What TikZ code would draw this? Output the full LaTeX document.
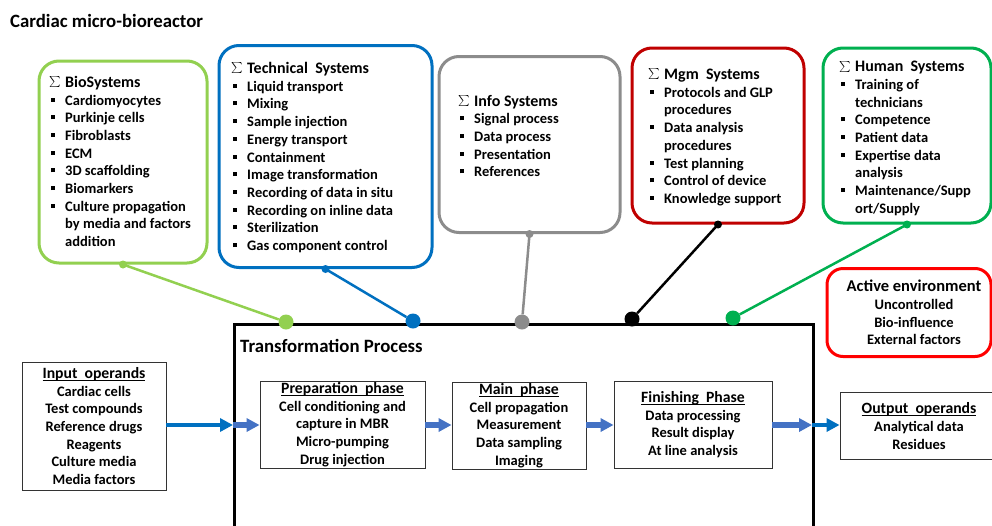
\documentclass[tikz,border=0pt]{standalone}
\usepackage{fontspec}
\setmainfont{Carlito}
\usetikzlibrary{arrows.meta}
\definecolor{cbio}{HTML}{92D050}
\definecolor{ctech}{HTML}{0070C0}
\definecolor{cinfo}{HTML}{8C8C8C}
\definecolor{cmgm}{HTML}{C00000}
\definecolor{chum}{HTML}{00B050}
\definecolor{cact}{HTML}{FF0000}
\definecolor{carrd}{HTML}{0070C0}
\definecolor{carrl}{HTML}{4472C4}
\newlength{\myullen}
\newcommand{\myul}[1]{\settowidth{\myullen}{#1}\rlap{\rule[-2.2pt]{\myullen}{0.8pt}}#1}
\newcommand{\syshdr}[1]{\strut\makebox[16pt][l]{\raisebox{1.2pt}{\scalebox{1.1}{$\sum$}}}{\fontsize{16}{17.7}\selectfont #1}}
\newcommand{\sysitm}[1]{\\\strut\hspace*{2pt}\makebox[14pt][l]{\rule[3.5pt]{4pt}{4pt}}#1}
\newcommand{\syscnt}[1]{\\\strut\hspace*{16pt}#1}
\newcommand{\phhdr}[1]{{\fontsize{15.7}{17.7}\selectfont\myul{#1}}}
\tikzset{
  sysbox/.style={draw, rounded corners=20pt, line width=3pt, inner sep=0, fill=white},
  systxt/.style={anchor=west, inner sep=0, align=left, font=\fontsize{14.5}{17.7}\selectfont\bfseries},
  phasebox/.style={draw=black!80, line width=0.9pt, inner sep=0, align=center, font=\fontsize{14.5}{17.7}\selectfont\bfseries},
  phasetxt/.style={inner sep=0, align=center, font=\fontsize{14.5}{17.7}\selectfont\bfseries},
  bigdot/.style={circle, inner sep=0, minimum size=15pt},
  link/.style={line width=2.5pt},
  darr/.style={carrd, line width=4pt, -{Triangle[length=13pt,width=13pt]}},
  larr/.style={carrl, line width=6pt, -{Triangle[length=13pt,width=13pt]}},
  heading/.style={anchor=west, inner sep=0, font=\fontsize{18.8}{22}\selectfont\bfseries},
}
\begin{document}
\begin{tikzpicture}[x=1pt,y=-1pt]
\useasboundingbox (0,0) rectangle (992,525);
\fill[white] (0,0) rectangle (992,525);
% title
\node[heading] (title) at (10,21) {Cardiac micro-bioreactor};
% transformation process frame
\node[draw, line width=2.5pt, minimum width=579pt, minimum height=230pt, anchor=north west, inner sep=0] (trans) at (233,323) {};
\node[heading] (translbl) at (240,346) {Transformation Process};
% system boxes
\node[sysbox, draw=cbio, minimum width=168pt, minimum height=202pt] (bio) at (123,162) {};
\node[sysbox, draw=ctech, minimum width=213pt, minimum height=222pt] (tech) at (325.5,156.5) {};
\node[sysbox, draw=cinfo, minimum width=181pt, minimum height=176pt] (info) at (529.5,144.5) {};
\node[sysbox, draw=cmgm, minimum width=172pt, minimum height=175pt] (mgm) at (718,135.5) {};
\node[sysbox, draw=chum, minimum width=168pt, minimum height=175pt] (hum) at (907,135.5) {};
\node[sysbox, draw=cact, rounded corners=16pt, minimum width=164pt, minimum height=88pt, align=center, font=\fontsize{14.5}{17.7}\selectfont\bfseries] (act) at (909,312.5)
  {\hspace*{10pt}{\fontsize{16.5}{17.7}\selectfont Active environment}\\\hspace*{10pt}Uncontrolled\\\hspace*{10pt}Bio-influence\\\hspace*{10pt}External factors};
% system texts
\node[systxt] (biotxt) at (49,163.5) {\syshdr{BioSystems}\sysitm{Cardiomyocytes}\sysitm{Purkinje cells}\sysitm{Fibroblasts}\sysitm{ECM}\sysitm{3D scaffolding}\sysitm{Biomarkers}\sysitm{Culture propagation}\syscnt{by media and factors}\syscnt{addition}};
\node[systxt] (techtxt) at (231,158.5) {\syshdr{Technical\ \ Systems}\sysitm{Liquid transport}\sysitm{Mixing}\sysitm{Sample injection}\sysitm{Energy transport}\sysitm{Containment}\sysitm{Image transformation}\sysitm{Recording of data in situ}\sysitm{Recording on inline data}\sysitm{Sterilization}\sysitm{Gas component control}};
\node[systxt] (infotxt) at (458,138) {\syshdr{Info Systems}\sysitm{Signal process}\sysitm{Data process}\sysitm{Presentation}\sysitm{References}};
\node[systxt] (mgmtxt) at (648,138) {\syshdr{Mgm\ \ Systems}\sysitm{Protocols and GLP}\syscnt{procedures}\sysitm{Data analysis}\syscnt{procedures}\sysitm{Test planning}\sysitm{Control of device}\sysitm{Knowledge support}};
\node[systxt] (humtxt) at (839,139) {\syshdr{Human\ \ Systems}\sysitm{Training of}\syscnt{technicians}\sysitm{Competence}\sysitm{Patient data}\sysitm{Expertise data}\syscnt{analysis}\sysitm{Maintenance/Supp}\syscnt{ort/Supply}};
% big dots on the frame
\node[bigdot, fill=cbio] (d1) at (286,322) {};
\node[bigdot, fill=ctech] (d2) at (413,321) {};
\node[bigdot, fill=cinfo] (d3) at (522,322) {};
\node[bigdot, fill=black] (d4) at (632,319) {};
\node[bigdot, fill=chum] (d5) at (733,318) {};
% connectors
\draw[link, cbio] (bio.south) -- (d1);
\draw[link, ctech] (tech.south) -- (d2);
\draw[link, cinfo] (info.south) -- (d3);
\draw[link, black] (mgm.south) -- (d4);
\draw[link, chum] (hum.south) -- (d5);
\fill[cbio] (bio.south) circle (4pt);
\fill[ctech] (tech.south) circle (4pt);
\fill[cinfo] (info.south) circle (4pt);
\fill[black] (mgm.south) circle (4pt);
\fill[chum] (hum.south) circle (4pt);
% operand and phase boxes
\node[phasebox, minimum width=144pt, minimum height=128pt] (inp) at (94,426)
  {\phhdr{Input\ \ operands}\\Cardiac cells\\Test compounds\\Reference drugs\\Reagents\\Culture media\\Media factors};
\node[phasebox, minimum width=165pt, minimum height=87pt] (prep) at (342.5,424.5)
  {\phhdr{Preparation\ \ phase}\\Cell conditioning and\\capture in MBR\\Micro-pumping\\Drug injection};
\node[phasebox, minimum width=134pt, minimum height=87pt] (main) at (519,425.5)
  {\phhdr{Main\ \ phase}\\Cell propagation\\Measurement\\Data sampling\\Imaging};
\node[phasebox, minimum width=158pt, minimum height=87pt] (fin) at (693,424.5)
  {\phhdr{Finishing\ \ Phase}\\Data processing\\Result display\\At line analysis};
\node[phasebox, minimum width=170pt, minimum height=67pt] (out) at (925,426) {};
\node[phasetxt] (outtxt) at (919,426)
  {\phhdr{Output\ \ operands}\\Analytical data\\Residues};
% flow arrows
\coordinate (tin) at (233,425);
\coordinate (tout) at (812,425);
\draw[darr] (inp.east |- tin) -- (tin);
\draw[larr] (tin) -- (prep.west |- tin);
\draw[larr] (prep.east |- tin) -- (main.west |- tin);
\draw[larr] (main.east |- tin) -- (fin.west |- tin);
\draw[larr] (fin.east |- tin) -- (tout);
\draw[darr] (tout) -- (out.west |- tout);
\end{tikzpicture}
\end{document}
